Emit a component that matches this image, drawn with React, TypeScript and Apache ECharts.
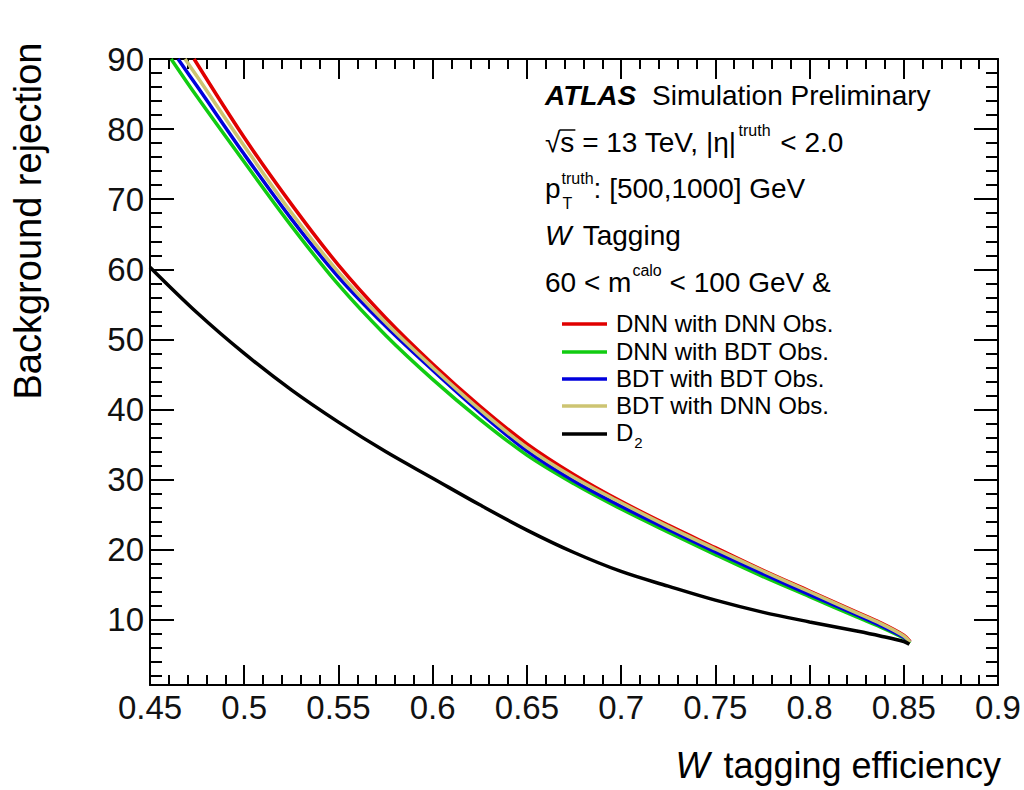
import React, { useEffect, useRef } from "react";
import * as echarts from "echarts";

// ---------- data ----------
const X_MAJOR = [0.45, 0.5, 0.55, 0.6, 0.65, 0.7, 0.75, 0.8, 0.85, 0.9];
const X_MINOR = [
  0.46, 0.47, 0.48, 0.49, 0.51, 0.52, 0.53, 0.54, 0.56, 0.57, 0.58, 0.59,
  0.61, 0.62, 0.63, 0.64, 0.66, 0.67, 0.68, 0.69, 0.71, 0.72, 0.73, 0.74,
  0.76, 0.77, 0.78, 0.79, 0.81, 0.82, 0.83, 0.84, 0.86, 0.87, 0.88, 0.89,
];
const Y_MAJOR = [10, 20, 30, 40, 50, 60, 70, 80, 90];
const Y_MINOR = [
  2, 4, 6, 8, 12, 14, 16, 18, 22, 24, 26, 28, 32, 34, 36, 38, 42, 44, 46, 48,
  52, 54, 56, 58, 62, 64, 66, 68, 72, 74, 76, 78, 82, 84, 86, 88,
];

const DNN_DNN_OBS = [
  [0.4734, 90], [0.5, 78.8], [0.525, 69.3], [0.55, 60.6], [0.575, 53.1],
  [0.6, 46.5], [0.625, 40.5], [0.65, 35.1], [0.675, 30.7], [0.7, 26.9],
  [0.725, 23.5], [0.75, 20.3], [0.775, 17.1], [0.8, 14.1], [0.825, 11.1],
  [0.8375, 9.6], [0.85, 7.8], [0.8534, 6.9],
];
const DNN_BDT_OBS = [
  [0.4612, 90], [0.475, 84.6], [0.5, 75.3], [0.525, 66.2], [0.55, 57.8],
  [0.575, 50.6], [0.6, 44.3], [0.625, 38.6], [0.65, 33.5], [0.675, 29.4],
  [0.7, 25.8], [0.725, 22.5], [0.75, 19.3], [0.775, 16.2], [0.8, 13.3],
  [0.825, 10.4], [0.8375, 9.0], [0.85, 7.4], [0.8534, 6.7],
];
const BDT_BDT_OBS = [
  [0.4649, 90], [0.475, 86.1], [0.5, 76.4], [0.525, 67.2], [0.55, 58.9],
  [0.575, 51.9], [0.6, 45.6], [0.625, 39.6], [0.65, 34.1], [0.675, 29.8],
  [0.7, 26.2], [0.725, 22.9], [0.75, 19.7], [0.775, 16.6], [0.8, 13.6],
  [0.825, 10.7], [0.8375, 9.2], [0.85, 7.5], [0.8534, 6.8],
];
const BDT_DNN_OBS = [
  [0.4686, 90], [0.475, 87.5], [0.5, 77.6], [0.525, 68.1], [0.55, 59.6],
  [0.575, 52.4], [0.6, 46.0], [0.625, 40.0], [0.65, 34.6], [0.675, 30.3],
  [0.7, 26.7], [0.725, 23.3], [0.75, 20.1], [0.775, 17.0], [0.8, 14.0],
  [0.825, 11.0], [0.8375, 9.5], [0.85, 7.7], [0.8534, 6.8],
];
const D2 = [
  [0.45, 60.3], [0.475, 53.8], [0.5, 48.0], [0.525, 42.8], [0.55, 38.2],
  [0.575, 34.0], [0.6, 30.2], [0.625, 26.4], [0.65, 22.8], [0.675, 19.6],
  [0.7, 16.9], [0.725, 14.8], [0.75, 12.8], [0.775, 11.1], [0.8, 9.7],
  [0.825, 8.4], [0.8375, 7.7], [0.85, 6.9], [0.853, 6.5],
];

const SERIES_NAMES = [
  "DNN with DNN Obs.",
  "DNN with BDT Obs.",
  "BDT with BDT Obs.",
  "BDT with DNN Obs.",
  "D2",
];
const SERIES_DATA = [DNN_DNN_OBS, DNN_BDT_OBS, BDT_BDT_OBS, BDT_DNN_OBS, D2];
const SERIES_COLORS = ["#e00000", "#11cc11", "#0000dd", "#cdc472", "#000000"];

// ---------- helpers ----------
const FONT = "'Liberation Sans', Arial, Helvetica, sans-serif";
const fnt = (size: number, style = "") => `${style} ${size}px ${FONT}`.trim();

let measureCtx: CanvasRenderingContext2D | null = null;
function measure(text: string, size: number, style = ""): number {
  if (!measureCtx) measureCtx = document.createElement("canvas").getContext("2d");
  if (!measureCtx) return text.length * size * 0.55;
  measureCtx.font = fnt(size, style);
  return measureCtx.measureText(text).width;
}

function txt(text: string, x: number, baseline: number, size: number, style = "", align = "left") {
  return {
    type: "text",
    x,
    y: baseline - 0.35 * size,
    silent: true,
    style: {
      text,
      font: fnt(size, style),
      fill: "#000",
      align,
      verticalAlign: "middle",
    },
  };
}

function buildGraphics() {
  const g: any[] = [];
  const S = 28;
  const SS = 16;
  // line 1
  g.push(txt("ATLAS", 545, 105, S, "italic bold"));
  g.push(txt("Simulation Preliminary", 652, 105, S));
  // line 2
  {
    const b = 152;
    let x = 545;
    g.push(txt("\u221A", x, b, S));
    x += measure("\u221A", S);
    const sW = measure("s", S);
    g.push(txt("s", x, b, S));
    g.push({
      type: "line",
      silent: true,
      shape: { x1: x - 1, y1: b - 22, x2: x + sW + 1, y2: b - 22 },
      style: { stroke: "#000", lineWidth: 1.5 },
    });
    x += sW;
    const p = " = 13 TeV, |\u03B7|";
    g.push(txt(p, x, b, S));
    x += measure(p, S) + 2;
    g.push(txt("truth", x, b - 16, SS));
    x += measure("truth", SS) + 2;
    g.push(txt(" < 2.0", x, b, S));
  }
  // line 3
  {
    const b = 198;
    let x = 545;
    g.push(txt("p", x, b, S));
    x += measure("p", S) + 1;
    g.push(txt("T", x + 1, b + 11, SS));
    g.push(txt("truth", x, b - 14, SS));
    x += measure("truth", SS);
    g.push(txt(": [500,1000] GeV", x, b, S));
  }
  // line 4
  {
    const b = 245;
    g.push(txt("W", 545, b, S, "italic"));
    g.push(txt(" Tagging", 545 + measure("W", S, "italic") + 4, b, S));
  }
  // line 5
  {
    const b = 292;
    let x = 545;
    const p = "60 < m";
    g.push(txt(p, x, b, S));
    x += measure(p, S) + 1;
    g.push(txt("calo", x, b - 16, SS));
    x += measure("calo", SS);
    g.push(txt(" < 100 GeV &", x, b, S));
  }
  // legend
  const rows = [324, 352, 379, 406, 434];
  const LS = 24;
  SERIES_NAMES.forEach((name, i) => {
    const y = rows[i];
    g.push({
      type: "line",
      silent: true,
      shape: { x1: 562, y1: y, x2: 607, y2: y },
      style: { stroke: SERIES_COLORS[i], lineWidth: 3.5 },
    });
    if (name === "D2") {
      g.push(txt("D", 616, y + 7, LS));
      g.push(txt("2", 616 + measure("D", LS) + 1, y + 14, 15));
    } else {
      g.push(txt(name, 616, y + 8, LS));
    }
  });
  // axis titles
  g.push({
    type: "text",
    x: 28,
    y: 221,
    rotation: Math.PI / 2,
    silent: true,
    style: {
      text: "Background rejection",
      font: fnt(38),
      fill: "#000",
      align: "center",
      verticalAlign: "middle",
    },
  });
  {
    const b = 778;
    const T = 36;
    const wW = measure("W", T, "italic");
    const rest = " tagging efficiency";
    const wR = measure(rest, T);
    const x0 = 1001 - wW - wR - 4;
    g.push(txt("W", x0, b, T, "italic"));
    g.push(txt(rest, x0 + wW + 4, b, T));
  }
  return g;
}

function xAxis(position: string, ticks: number[], len: number, showLine: boolean, showLabel: boolean) {
  return {
    type: "value",
    position,
    min: 0.45,
    max: 0.9,
    axisLine: { show: showLine, onZero: false, lineStyle: { color: "#000", width: 2 } },
    axisTick: { show: true, inside: true, length: len, customValues: ticks, lineStyle: { color: "#000", width: 2 } },
    axisLabel: {
      show: showLabel,
      customValues: ticks,
      margin: 6,
      color: "#111",
      fontSize: 33,
      fontFamily: FONT,
      formatter: (v: number) => String(v),
    },
    splitLine: { show: false },
    minorTick: { show: false },
  };
}
function yAxis(position: string, ticks: number[], len: number, showLine: boolean, showLabel: boolean) {
  return {
    type: "value",
    position,
    min: 0.7,
    max: 90,
    axisLine: { show: showLine, onZero: false, lineStyle: { color: "#000", width: 2 } },
    axisTick: { show: true, inside: true, length: len, customValues: ticks, lineStyle: { color: "#000", width: 2 } },
    axisLabel: {
      show: showLabel,
      customValues: ticks,
      margin: 6,
      color: "#111",
      fontSize: 33,
      fontFamily: FONT,
      formatter: (v: number) => String(v),
    },
    splitLine: { show: false },
  };
}

export default function App() {
  const ref = useRef<HTMLDivElement>(null);
  useEffect(() => {
    if (!ref.current) return;
    const chart = echarts.init(ref.current, null, { renderer: "svg" });
    const option: any = {
      animation: false,
      backgroundColor: "#fff",
      grid: { left: 150, right: 26, top: 59, bottom: 105, containLabel: false, outerBoundsMode: "none" },
      xAxis: [
        xAxis("bottom", X_MAJOR, 20, true, true),
        xAxis("bottom", X_MINOR, 10, false, false),
        xAxis("top", X_MAJOR, 20, true, false),
        xAxis("top", X_MINOR, 10, false, false),
      ],
      yAxis: [
        yAxis("left", Y_MAJOR, 24, true, true),
        yAxis("left", Y_MINOR, 12, false, false),
        yAxis("right", Y_MAJOR, 24, true, false),
        yAxis("right", Y_MINOR, 12, false, false),
      ],
      series: SERIES_NAMES.map((name, i) => ({
        name,
        type: "line",
        xAxisIndex: 0,
        yAxisIndex: 0,
        data: SERIES_DATA[i],
        showSymbol: false,
        symbol: "none",
        smooth: 0.35,
        lineStyle: { color: SERIES_COLORS[i], width: 3.5 },
        itemStyle: { color: SERIES_COLORS[i] },
        silent: true,
        clip: true,
      })),
      graphic: buildGraphics(),
    };
    chart.setOption(option);
    return () => chart.dispose();
  }, []);
  return (
    <div
      ref={ref}
      style={{ position: "fixed", left: 0, top: 0, width: 1024, height: 790, background: "#fff" }}
    />
  );
}
